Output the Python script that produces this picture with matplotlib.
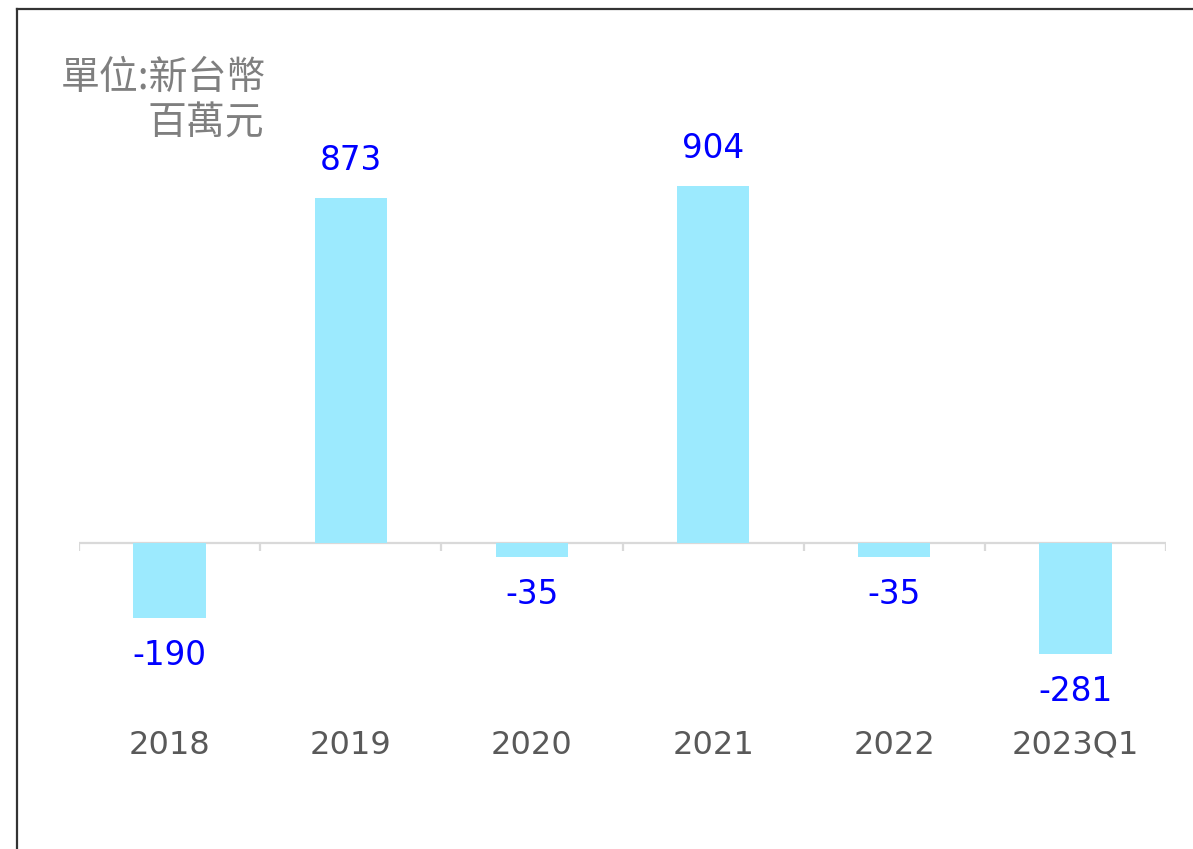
import matplotlib.pyplot as plt
from matplotlib.lines import Line2D

plt.rcParams['font.family'] = ['DejaVu Sans', 'Noto Sans CJK TC']

years = ['2018', '2019', '2020', '2021', '2022', '2023Q1']
values = [-190, 873, -35, 904, -35, -281]

fig = plt.figure(figsize=(11.93, 8.49), dpi=100)
W, H = 1193, 849
# axes in pixel terms: x 79..1166, y 100..720 (zero line at 543)
ax = fig.add_axes([79 / W, 1 - 720 / H, (1166 - 79) / W, (720 - 100) / H])

px = 0.395  # pixels per unit
ax.set_ylim(-(720 - 543) / px, (543 - 100) / px)
ax.set_xlim(-0.5, len(years) - 0.5)

xs = range(len(years))
ax.bar(xs, values, width=0.4, color='#9CEAFE', zorder=2)

# zero line and category ticks
ax.axhline(0, color='#d9d9d9', lw=1.6, zorder=1)
ax.vlines([i - 0.5 for i in range(len(years) + 1)], -8 / px, 0,
          color='#d9d9d9', lw=1.6, zorder=1)

for x, v in zip(xs, values):
    off = 15 if v > 0 else -15
    ax.annotate(str(v), (x, v), xytext=(0, off), textcoords='offset points',
                ha='center', va='bottom' if v > 0 else 'top',
                fontsize=23.5, color='#0000FF')

ax.set_xticks(list(xs))
ax.set_xticklabels(years, fontsize=23, color='#595959')
ax.tick_params(axis='x', length=0, pad=7)
ax.set_yticks([])
for s in ax.spines.values():
    s.set_visible(False)

cjk = ['Noto Sans CJK TC', 'DejaVu Sans']
fig.text(266 / W, 1 - 78 / H, '單位:新台幣', ha='right', va='center',
         fontsize=28, color='#7f7f7f', family=cjk)
fig.text(264 / W, 1 - 124 / H, '百萬元', ha='right', va='center',
         fontsize=28, color='#7f7f7f', family=cjk)

# outer frame (left and top edges)
fig.add_artist(Line2D([17 / W, 17 / W], [0, 1 - 9 / H], color='#333333', lw=1.6,
                      transform=fig.transFigure))
fig.add_artist(Line2D([17 / W, 1], [1 - 9 / H, 1 - 9 / H], color='#333333', lw=1.6,
                      transform=fig.transFigure))

fig.savefig('out.png', dpi=100)
